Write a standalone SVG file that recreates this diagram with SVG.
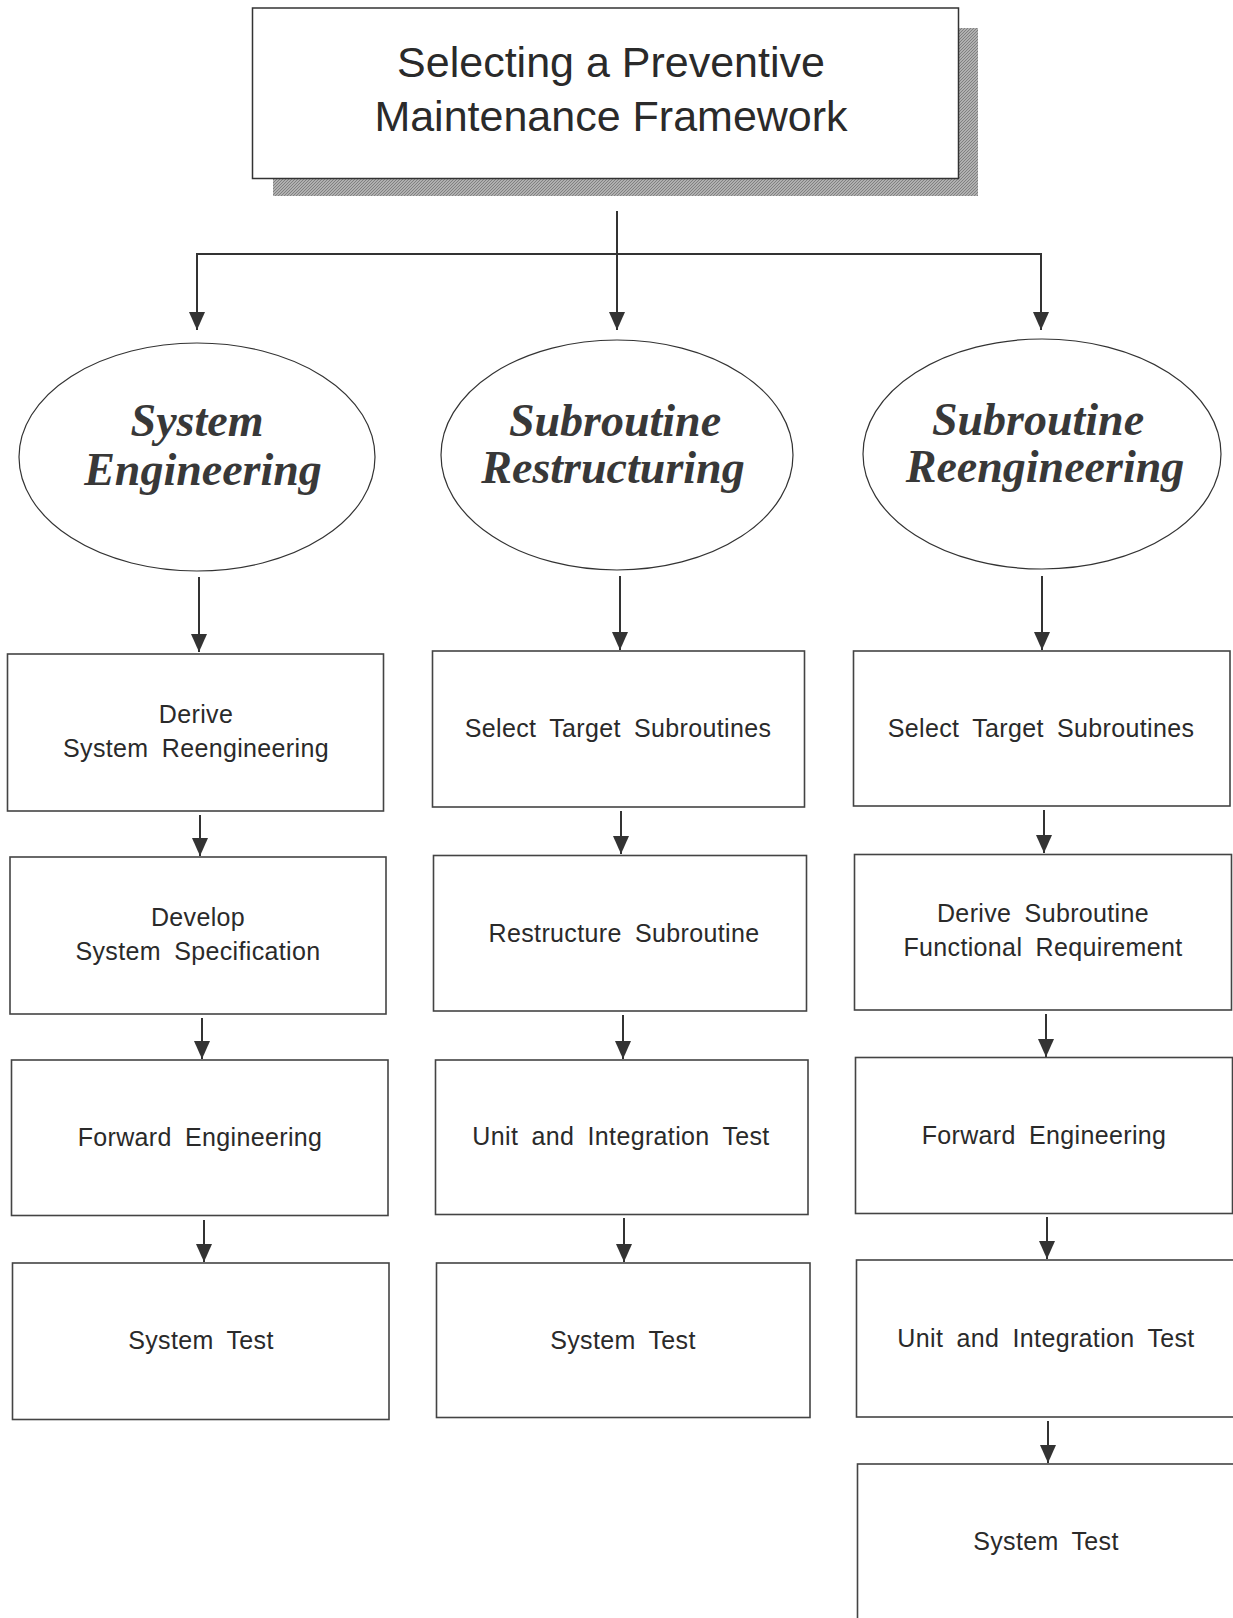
<svg xmlns="http://www.w3.org/2000/svg" width="1233" height="1618" viewBox="0 0 1233 1618">
<defs>
<style>
.box{fill:#fff;stroke:#444;stroke-width:1.6}
.ell{fill:#fff;stroke:#333;stroke-width:1.2}
.bt{font-family:"Liberation Sans",Arial,sans-serif;font-size:25px;fill:#2a2a2a;text-anchor:middle;letter-spacing:0.35px;word-spacing:6px}
.et{font-family:"Liberation Serif","Times New Roman",serif;font-size:46px;font-weight:bold;font-style:italic;fill:#383838;text-anchor:middle}
.tt{font-family:"Liberation Sans",Arial,sans-serif;font-size:43px;fill:#2a2a2a;text-anchor:middle}
.cn{fill:none;stroke:#333;stroke-width:2}
.ar{marker-end:url(#ah)}
</style>
<marker id="ah" viewBox="0 0 18 16" refX="18" refY="8" markerWidth="18" markerHeight="16" markerUnits="userSpaceOnUse" orient="auto">
<path d="M0,0 L18,8 L0,16 z" fill="#333"/>
</marker>
<pattern id="hatch" width="3" height="3" patternUnits="userSpaceOnUse">
<rect width="3" height="3" fill="#b0b0b0"/>
<path d="M0,3 L3,0" stroke="#808080" stroke-width="1"/>
</pattern>
</defs>

<g id="title">
<rect x="273" y="28" width="705" height="168" fill="url(#hatch)"/>
<rect x="252.5" y="8" width="706" height="170.5" fill="#fff" stroke="#333" stroke-width="1.5"/>
<text class="tt" x="611" y="77">Selecting a Preventive</text>
<text class="tt" x="611" y="131">Maintenance Framework</text>
</g>

<g id="connectors">
<path class="cn" d="M197,254 H1041"/>
<path class="cn ar" d="M617,211 V330"/>
<path class="cn ar" d="M197,253 V330"/>
<path class="cn ar" d="M1041,253 V330"/>
<path class="cn ar" d="M199,577 V652"/>
<path class="cn ar" d="M620,576 V650"/>
<path class="cn ar" d="M1042,576 V650"/>
<path class="cn ar" d="M200,815 V856"/>
<path class="cn ar" d="M202,1018 V1059"/>
<path class="cn ar" d="M204,1220 V1262"/>
<path class="cn ar" d="M621,811 V854"/>
<path class="cn ar" d="M623,1015 V1059"/>
<path class="cn ar" d="M624,1218 V1262"/>
<path class="cn ar" d="M1044,810 V853"/>
<path class="cn ar" d="M1046,1014 V1057"/>
<path class="cn ar" d="M1047,1217 V1259"/>
<path class="cn ar" d="M1048,1421 V1463"/>
</g>

<g id="sys-eng">
<ellipse class="ell" cx="197" cy="457" rx="178" ry="114"/>
<text class="et" x="197" y="436">System</text>
<text class="et" x="203" y="485">Engineering</text>
</g>
<g id="sub-restr">
<ellipse class="ell" cx="617" cy="455" rx="176" ry="115"/>
<text class="et" x="615" y="436">Subroutine</text>
<text class="et" x="613" y="483">Restructuring</text>
</g>
<g id="sub-reeng">
<ellipse class="ell" cx="1042" cy="454" rx="179" ry="115"/>
<text class="et" x="1038" y="435">Subroutine</text>
<text class="et" x="1045" y="482">Reengineering</text>
</g>

<g id="c1b1"><rect class="box" x="7.5" y="654" width="376" height="157"/>
<text class="bt" x="196" y="723">Derive</text><text class="bt" x="196" y="757">System Reengineering</text></g>
<g id="c1b2"><rect class="box" x="10" y="857" width="376" height="157"/>
<text class="bt" x="198" y="926">Develop</text><text class="bt" x="198" y="960">System Specification</text></g>
<g id="c1b3"><rect class="box" x="11.5" y="1060" width="376.5" height="155.5"/>
<text class="bt" x="200" y="1146">Forward Engineering</text></g>
<g id="c1b4"><rect class="box" x="12.5" y="1263" width="376.5" height="156.5"/>
<text class="bt" x="201" y="1349">System Test</text></g>

<g id="c2b1"><rect class="box" x="432.5" y="651" width="372" height="156"/>
<text class="bt" x="618" y="737">Select Target Subroutines</text></g>
<g id="c2b2"><rect class="box" x="433.5" y="855.5" width="373" height="155.5"/>
<text class="bt" x="624" y="942">Restructure Subroutine</text></g>
<g id="c2b3"><rect class="box" x="435.5" y="1060" width="372.5" height="154.5"/>
<text class="bt" x="621" y="1145">Unit and Integration Test</text></g>
<g id="c2b4"><rect class="box" x="436.5" y="1263" width="373.5" height="154.5"/>
<text class="bt" x="623" y="1349">System Test</text></g>

<g id="c3b1"><rect class="box" x="853.5" y="651" width="376.5" height="155"/>
<text class="bt" x="1041" y="737">Select Target Subroutines</text></g>
<g id="c3b2"><rect class="box" x="854.5" y="854.5" width="377" height="155.5"/>
<text class="bt" x="1043" y="922">Derive Subroutine</text><text class="bt" x="1043" y="956">Functional Requirement</text></g>
<g id="c3b3"><rect class="box" x="855.5" y="1057.5" width="377" height="156"/>
<text class="bt" x="1044" y="1144">Forward Engineering</text></g>
<g id="c3b4"><rect class="box" x="856.5" y="1260" width="380" height="157"/>
<text class="bt" x="1046" y="1347">Unit and Integration Test</text></g>
<g id="c3b5"><rect class="box" x="857.5" y="1464" width="390" height="170"/>
<text class="bt" x="1046" y="1550">System Test</text></g>
</svg>
